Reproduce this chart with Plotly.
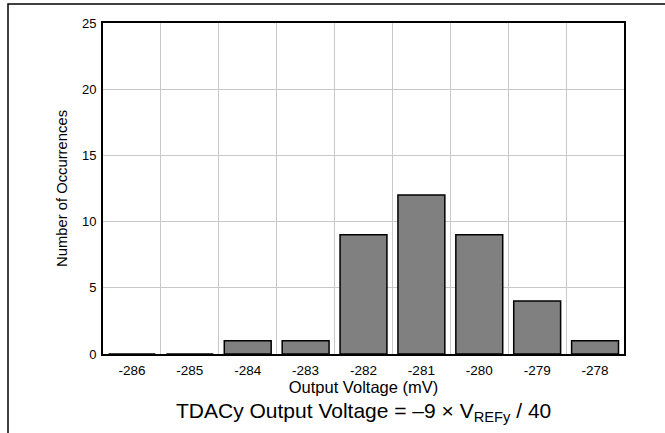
import plotly.graph_objects as go

voltages = [-286, -285, -284, -283, -282, -281, -280, -279, -278]
occurrences = [0, 0, 1, 1, 9, 12, 9, 4, 1]
y_ticks = [0, 5, 10, 15, 20, 25]

fig = go.Figure()
fig.add_trace(go.Bar(
    x=voltages,
    y=occurrences,
    marker=dict(color='#808080', line=dict(color='black', width=1.5)),
    width=0.81,
))

fig.update_layout(
    width=665, height=433,
    margin=dict(l=103, r=41, t=23, b=79),
    plot_bgcolor='white', paper_bgcolor='white',
    font=dict(family='Liberation Sans, Arial, sans-serif', color='black', size=13),
    showlegend=False,
    xaxis=dict(
        range=[-286.5, -277.5],
        tickvals=voltages,
        ticktext=[str(v) for v in voltages],
        tickfont=dict(size=13.5),
        showgrid=False,
        minor=dict(tick0=-285.5, dtick=1, showgrid=True, gridcolor='#c8c8c8', gridwidth=1),
        showline=True, linecolor='black', linewidth=2, mirror=True,
        ticks='', ticklen=0, ticklabelstandoff=3,
        title=dict(text='Output Voltage (mV)', font=dict(size=16.5), standoff=0),
        zeroline=False,
    ),
    yaxis=dict(
        range=[0, 25],
        tickvals=y_ticks,
        tickfont=dict(size=13),
        showgrid=True, gridcolor='#c8c8c8', gridwidth=1,
        showline=True, linecolor='black', linewidth=2, mirror=True,
        ticks='', ticklen=0, ticklabelstandoff=2,
        title=dict(text='Number of Occurrences', font=dict(size=14.8), standoff=11),
        zeroline=False,
    ),
)

# page frame: a box whose right and bottom edges sit outside the page,
# so only the top and left edges show
fig.add_shape(type='rect', xref='paper', yref='paper', layer='above',
              x0=-95 / 521, x1=1 + 60 / 521,
              y0=1 + 19 / 331, y1=-100 / 331,
              line=dict(color='black', width=1.5), fillcolor='rgba(0,0,0,0)')

fig.add_annotation(
    text='TDACy Output Voltage = \u20139 \u00d7 V<sub>REFy</sub> / 40',
    xref='paper', yref='paper', x=0.5, y=-58 / 331,
    xanchor='center', yanchor='middle', showarrow=False,
    font=dict(size=21),
)

fig.write_html("out.html", config={'displayModeBar': False},
               post_script="document.body.style.margin='0';")
